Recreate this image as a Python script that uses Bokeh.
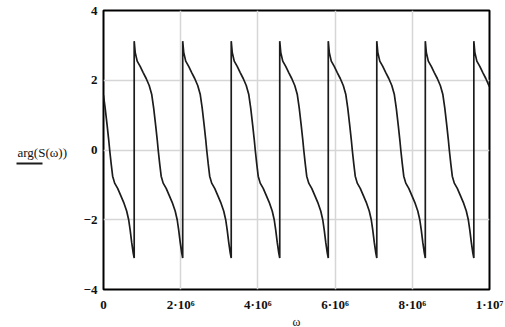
from bokeh.plotting import figure
from bokeh.layouts import row
from bokeh.models import Range1d, FixedTicker
from bokeh.core.properties import value
from bokeh.embed import file_html
from bokeh.resources import INLINE

# ---- data (omega in units of 1e6) ----
seg0_w = [0.000, 0.043, 0.095, 0.134, 0.160, 0.199, 0.237, 0.289, 0.367, 0.445,
          0.522, 0.600, 0.652, 0.691, 0.730, 0.769, 0.795]
seg0_arg = [1.57, 1.20, 0.70, 0.30, 0.00, -0.40, -0.75, -0.95, -1.10, -1.30,
            -1.50, -1.75, -2.00, -2.30, -2.65, -2.95, -3.10]

period_arg = [3.12, 2.80, 2.55, 2.40, 2.22, 2.05, 1.85, 1.60, 1.20, 0.70, 0.30, 0.00,
              -0.40, -0.75, -0.95, -1.10, -1.30, -1.50, -1.75, -2.00, -2.30, -2.65,
              -2.95, -3.10]

seg1_w = [0.795, 0.821, 0.873, 0.950, 1.028, 1.106, 1.184, 1.248, 1.300, 1.352, 1.391, 1.417,
          1.456, 1.494, 1.546, 1.624, 1.702, 1.779, 1.857, 1.909, 1.948, 1.987, 2.026, 2.052]
seg2_w = [2.052, 2.078, 2.130, 2.207, 2.285, 2.363, 2.441, 2.505, 2.557, 2.609, 2.648, 2.674,
          2.713, 2.751, 2.803, 2.881, 2.959, 3.036, 3.114, 3.166, 3.205, 3.244, 3.283, 3.309]
seg3_w = [3.309, 3.335, 3.387, 3.464, 3.542, 3.620, 3.698, 3.762, 3.814, 3.866, 3.905, 3.931,
          3.970, 4.008, 4.060, 4.138, 4.216, 4.293, 4.371, 4.423, 4.462, 4.501, 4.540, 4.566]
seg4_w = [4.566, 4.592, 4.644, 4.721, 4.799, 4.877, 4.955, 5.019, 5.071, 5.123, 5.162, 5.188,
          5.227, 5.265, 5.317, 5.395, 5.473, 5.550, 5.628, 5.680, 5.719, 5.758, 5.797, 5.823]
seg5_w = [5.823, 5.849, 5.901, 5.978, 6.056, 6.134, 6.212, 6.276, 6.328, 6.380, 6.419, 6.445,
          6.484, 6.522, 6.574, 6.652, 6.730, 6.807, 6.885, 6.937, 6.976, 7.015, 7.054, 7.080]
seg6_w = [7.080, 7.106, 7.158, 7.235, 7.313, 7.391, 7.469, 7.533, 7.585, 7.637, 7.676, 7.702,
          7.741, 7.779, 7.831, 7.909, 7.987, 8.064, 8.142, 8.194, 8.233, 8.272, 8.311, 8.337]
seg7_w = [8.337, 8.363, 8.415, 8.492, 8.570, 8.648, 8.726, 8.790, 8.842, 8.894, 8.933, 8.959,
          8.998, 9.036, 9.088, 9.166, 9.244, 9.321, 9.399, 9.451, 9.490, 9.529, 9.568, 9.594]
seg8_w = [9.594, 9.620, 9.672, 9.749, 9.827, 9.905, 9.983, 10.000]
seg8_arg = [3.12, 2.80, 2.55, 2.40, 2.22, 2.05, 1.85, 1.82]

x_ticks = [0, 2e6, 4e6, 6e6, 8e6, 1e7]
x_tick_labels = ["0", "2·10⁶", "4·10⁶", "6·10⁶", "8·10⁶", "1·10⁷"]
y_ticks = [-4, -2, 0, 2, 4]
y_label = "arg(S(ω))"
x_label = "ω"

# ---- assemble ----
omega = []
arg = []
omega += seg0_w; arg += seg0_arg
for seg in (seg1_w, seg2_w, seg3_w, seg4_w, seg5_w, seg6_w, seg7_w):
    omega += seg
    arg += period_arg
omega += seg8_w; arg += seg8_arg
omega = [w * 1e6 for w in omega]

SERIF = "Liberation Serif"
INK = "#1c1c1c"
LEFT_W = 73      # width of the side strip that holds the trace label
TOTAL_H = 327

# ---- main plot ----
p = figure(output_backend="svg", toolbar_location=None,
           frame_width=386, frame_height=279,
           min_border_left=103 - LEFT_W, min_border_right=16,
           min_border_top=10, min_border_bottom=38,
           x_range=Range1d(0, 1e7), y_range=Range1d(-4, 4),
           background_fill_color="white", border_fill_color="white",
           align="start")

p.outline_line_color = "black"
p.outline_line_width = 2

r = p.line(omega, arg, line_color=INK, line_width=1.7)

for ax in (p.xaxis[0], p.yaxis[0]):
    ax.axis_line_color = None
    ax.major_tick_line_color = None
    ax.minor_tick_line_color = None
    ax.major_tick_out = 0
    ax.major_tick_in = 0
    ax.minor_tick_out = 0
    ax.minor_tick_in = 0
    ax.major_label_text_font = SERIF
    ax.major_label_text_font_size = "13px"
    ax.major_label_text_font_style = "bold"
    ax.major_label_text_color = "#111111"

xa = p.xaxis[0]
xa.ticker = FixedTicker(ticks=x_ticks)
xa.major_label_overrides = {t: s for t, s in zip(x_ticks, x_tick_labels)}
xa.major_label_standoff = 7
xa.axis_label = x_label
xa.axis_label_standoff = 0
xa.axis_label_text_font = SERIF
xa.axis_label_text_font_size = "12px"
xa.axis_label_text_font_style = "normal"
xa.axis_label_text_color = "#111111"

ya = p.yaxis[0]
ya.ticker = FixedTicker(ticks=y_ticks)
ya.major_label_standoff = 6

p.xgrid.ticker = FixedTicker(ticks=x_ticks)
p.ygrid.ticker = FixedTicker(ticks=y_ticks)
for g in (p.xgrid, p.ygrid):
    g.grid_line_color = "#d6d6d6"
    g.grid_line_width = 1.5

# ---- side strip: Mathcad-style trace label with its line sample beneath ----
side = figure(output_backend="svg", toolbar_location=None,
              frame_width=LEFT_W, frame_height=TOTAL_H,
              min_border_left=0, min_border_right=0,
              min_border_top=0, min_border_bottom=0,
              x_range=Range1d(0, LEFT_W), y_range=Range1d(TOTAL_H, 0),
              x_axis_location=None, y_axis_location=None,
              background_fill_color="white", border_fill_color="white",
              align="start")
side.outline_line_color = None
side.grid.visible = False
side.text(x=[17], y=[142], text=[y_label], text_align="left", text_baseline="middle",
          text_font=value(SERIF), text_font_size="13px", text_color="#111111")
side.segment(x0=[16], y0=[153], x1=[42], y1=[153], line_color=INK, line_width=2)

layout = row(side, p, spacing=0)

open("out.html", "w").write(file_html(layout, INLINE))
